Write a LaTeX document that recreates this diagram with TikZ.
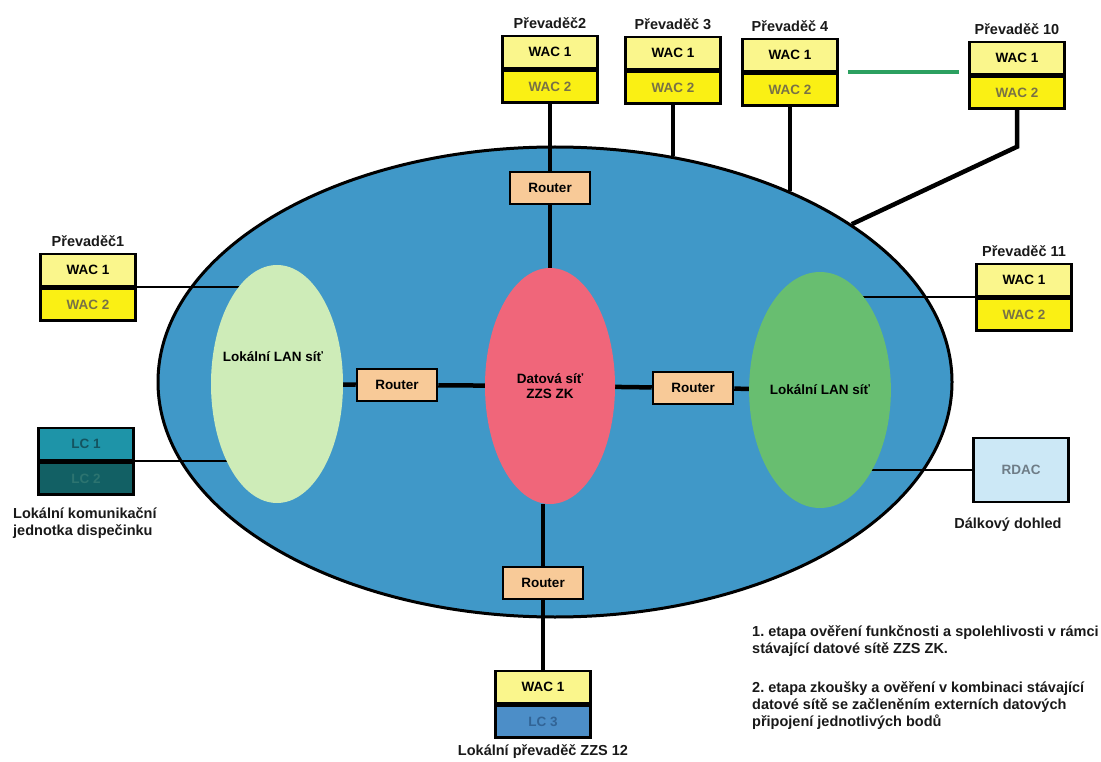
\documentclass[tikz,border=0pt]{standalone}
\usepackage{fontspec}
\setmainfont{Liberation Sans}
\usetikzlibrary{shapes.geometric}
\usetikzlibrary{positioning}
\frenchspacing
\definecolor{netblue}{RGB}{64,152,200}
\definecolor{lanlight}{RGB}{206,236,184}
\definecolor{lanpink}{RGB}{240,102,122}
\definecolor{langreen}{RGB}{104,190,112}
\definecolor{routerfill}{RGB}{248,202,152}
\definecolor{wacpale}{RGB}{250,246,140}
\definecolor{wacyellow}{RGB}{250,240,20}
\definecolor{wactext}{RGB}{120,114,70}
\definecolor{lcteal}{RGB}{30,148,168}
\definecolor{lctext}{RGB}{20,84,96}
\definecolor{lcdark}{RGB}{18,96,100}
\definecolor{lcdarktext}{RGB}{44,116,112}
\definecolor{lcblue}{RGB}{76,142,200}
\definecolor{lcbluetext}{RGB}{50,100,150}
\definecolor{rdacfill}{RGB}{204,232,246}
\definecolor{rdactext}{RGB}{110,124,134}
\definecolor{linkgreen}{RGB}{44,160,96}
\pgfdeclarelayer{bg}
\pgfdeclarelayer{wires}
\pgfsetlayers{bg,wires,main}
\newcommand{\labfont}{\fontsize{14.5}{17}\selectfont\bfseries}
\newcommand{\boxfont}{\fontsize{13.5}{15}\selectfont\bfseries}
\tikzstyle{boxstyle}=[draw, line width=2.5pt, rectangle, minimum width=95pt, minimum height=32pt, inner sep=0pt, font=\boxfont]
\tikzstyle{wacone}=[boxstyle, fill=wacpale]
\tikzstyle{wactwo}=[boxstyle, fill=wacyellow, text=wactext]
\tikzstyle{router}=[boxstyle, fill=routerfill, minimum width=80pt]
\tikzstyle{lan}=[ellipse, inner sep=0pt, font=\boxfont]
\tikzstyle{tag}=[inner sep=1pt, font=\labfont, text=black!90]
\tikzstyle{edgestyle}=[draw, line width=4.5pt]
\tikzstyle{linkstyle}=[draw, line width=2.2pt]
\newcommand{\wacpair}[3]{\node[wacone] (#1a) at (#2) {WAC 1};
  \node[wactwo, below=0pt of #1a] (#1b) {WAC 2};
  \node[tag, above=5pt of #1a] (#1t) {#3};}
\begin{document}
\begin{tikzpicture}[x=1pt, y=-1pt]
\useasboundingbox (0,0) rectangle (1101,762);
% network body
\begin{pgfonlayer}{bg}
\node[ellipse, draw, line width=3pt, fill=netblue, minimum width=794pt, minimum height=470pt, inner sep=0pt] (zzs) at (555,382) {};
\end{pgfonlayer}
% inner networks
\node[lan, fill=lanlight, minimum width=132pt, minimum height=238pt] (lanL) at (277,384) {};
\node[lan] (lanLt) at (273,357) {Lokální LAN síť};
\node[lan, fill=lanpink, minimum width=130pt, minimum height=236pt, align=center] (dsit) at (550,386) {Datová síť\\ZZS ZK};
\node[lan, fill=langreen, minimum width=128pt, minimum height=236pt] (lanR) at (820,390) {Lokální LAN síť};
% routers
\node[router] (rtop) at (550,188) {Router};
\node[router] (rleft) at (397,385) {Router};
\node[router] (rright) at (693,388) {Router};
\node[router] (rbot) at (543,583) {Router};
% repeaters
\wacpair{p2}{550,52}{Převaděč2}
\wacpair{p3}{673,53}{Převaděč 3}
\wacpair{p4}{790,55}{Převaděč 4}
\wacpair{p10}{1017,58}{Převaděč 10}
\wacpair{p1}{88,270}{Převaděč1}
\wacpair{p11}{1024,280}{Převaděč 11}
\coordinate (p10k) at ([yshift=-37pt]p10b.south);
% dispatch unit, supervision, local repeater
\node[boxstyle, fill=lcteal, text=lctext] (lc1) at (86,444) {LC 1};
\node[boxstyle, fill=lcdark, text=lcdarktext, below=0pt of lc1] (lc2) {LC 2};
\node[tag, align=left, anchor=north west] (lcname) at (12,506) {Lokální komunikační\\jednotka dispečinku};
\node[boxstyle, fill=rdacfill, text=rdactext, minimum height=64pt] (rdac) at (1021,470) {RDAC};
\node[tag] (rdacname) at (1008,525) {Dálkový dohled};
\node[wacone] (p12a) at (543,687) {WAC 1};
\node[boxstyle, fill=lcblue, text=lcbluetext, below=0pt of p12a] (p12b) {LC 3};
\node[tag, below=5pt of p12b] (p12t) {Lokální převaděč ZZS 12};
% notes
\node[tag, align=left, anchor=north west] (note1) at (751,624) {1. etapa ověření funkčnosti a spolehlivosti v rámci\\stávající datové sítě ZZS ZK.};
\node[tag, align=left, anchor=north west] (note2) at (751,680) {2. etapa zkoušky a ověření v kombinaci stávající\\datové sítě se začleněním externích datových\\připojení jednotlivých bodů};
% connections
\begin{pgfonlayer}{wires}
\draw[edgestyle] (p2b) -- (rtop) -- (dsit);
\draw[edgestyle] (p3b.south) -- (p3b.south |- zzs.62);
\draw[edgestyle] (p4b.south) -- (p4b.south |- zzs.39);
\draw[edgestyle] (p10b.south) -- (p10k) -- (zzs.28);
\draw[edgestyle] (lanL) -- (rleft) -- (dsit);
\draw[edgestyle] (dsit) -- (rright) -- (lanR);
\draw[edgestyle] (rbot |- dsit.south) -- (rbot) -- (p12a);
\draw[linkstyle] (p1a.south east) -- (p1a.south east -| lanL);
\draw[linkstyle] (lc1.south east) -- (lc1.south east -| lanL);
\draw[linkstyle] (p11a.south west) -- (p11a.south west -| lanR);
\draw[linkstyle] (rdac) -- (rdac -| lanR);
\draw[line width=4.5pt, linkgreen, shorten <=9pt, shorten >=9pt] (p4a.south east) -- (p4a.south east -| p10a.west);
\end{pgfonlayer}
\end{tikzpicture}
\end{document}
